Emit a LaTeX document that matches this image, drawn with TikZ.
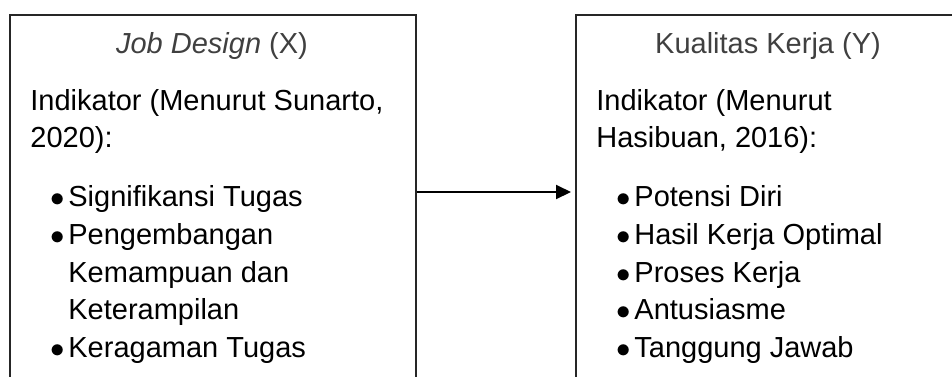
\documentclass[tikz,border=0pt]{standalone}
\usepackage{fontspec}
\setmainfont{Liberation Sans}
\usetikzlibrary{arrows.meta}

\newcommand{\butir}[1]{\llap{$\bullet$\hspace{2pt}}#1}

\begin{document}
\begin{tikzpicture}[x=0.5pt,y=-0.5pt,>={Triangle[length=7.5pt,width=7pt]},
  box/.style={draw=black!85,line width=1pt,anchor=north west,inner sep=0pt,
              minimum width=203pt,minimum height=200pt},
  txt/.style={anchor=base west,inner sep=0pt,font=\fontsize{14.5}{18}\selectfont},
  title/.style={txt,anchor=base,text=black!75}]
  \useasboundingbox (0,0) rectangle (952,376);
  \clip (0,0) rectangle (952,376);
  % kotak variabel
  \node[box]                      (jd)   at (9,14)    {};
  \node[box,minimum width=193.5pt] (kk)  at (575,14)  {};
  % judul
  \node[title]  (jdt)  at (212,53)  {\textit{Job Design} (X)};
  \node[title]  (kkt)  at (768,53)  {Kualitas Kerja (Y)};
  % indikator X
  \node[txt]    (jd1)  at (30,110)  {Indikator (Menurut Sunarto,};
  \node[txt]    (jd2)  at (30,147)  {2020):};
  \node[txt]    (jdA)  at (68,206)  {\butir{Signifikansi Tugas}};
  \node[txt]    (jdB)  at (68,244)  {\butir{Pengembangan}};
  \node[txt]    (jdB2) at (68,282)  {Kemampuan dan};
  \node[txt]    (jdB3) at (68,319)  {Keterampilan};
  \node[txt]    (jdC)  at (68,357)  {\butir{Keragaman Tugas}};
  % indikator Y
  \node[txt]    (kk1)  at (596,110) {Indikator (Menurut};
  \node[txt]    (kk2)  at (596,147) {Hasibuan, 2016):};
  \node[txt]    (kkA)  at (634,206) {\butir{Potensi Diri}};
  \node[txt]    (kkB)  at (634,244) {\butir{Hasil Kerja Optimal}};
  \node[txt]    (kkC)  at (634,282) {\butir{Proses Kerja}};
  \node[txt]    (kkD)  at (634,319) {\butir{Antusiasme}};
  \node[txt]    (kkE)  at (634,357) {\butir{Tanggung Jawab}};
  % panah X -> Y
  \coordinate (mid) at (0,192);
  \draw[->,line width=1pt,shorten >=2pt] (jd.east |- mid) -- (kk.west |- mid);
\end{tikzpicture}
\end{document}
